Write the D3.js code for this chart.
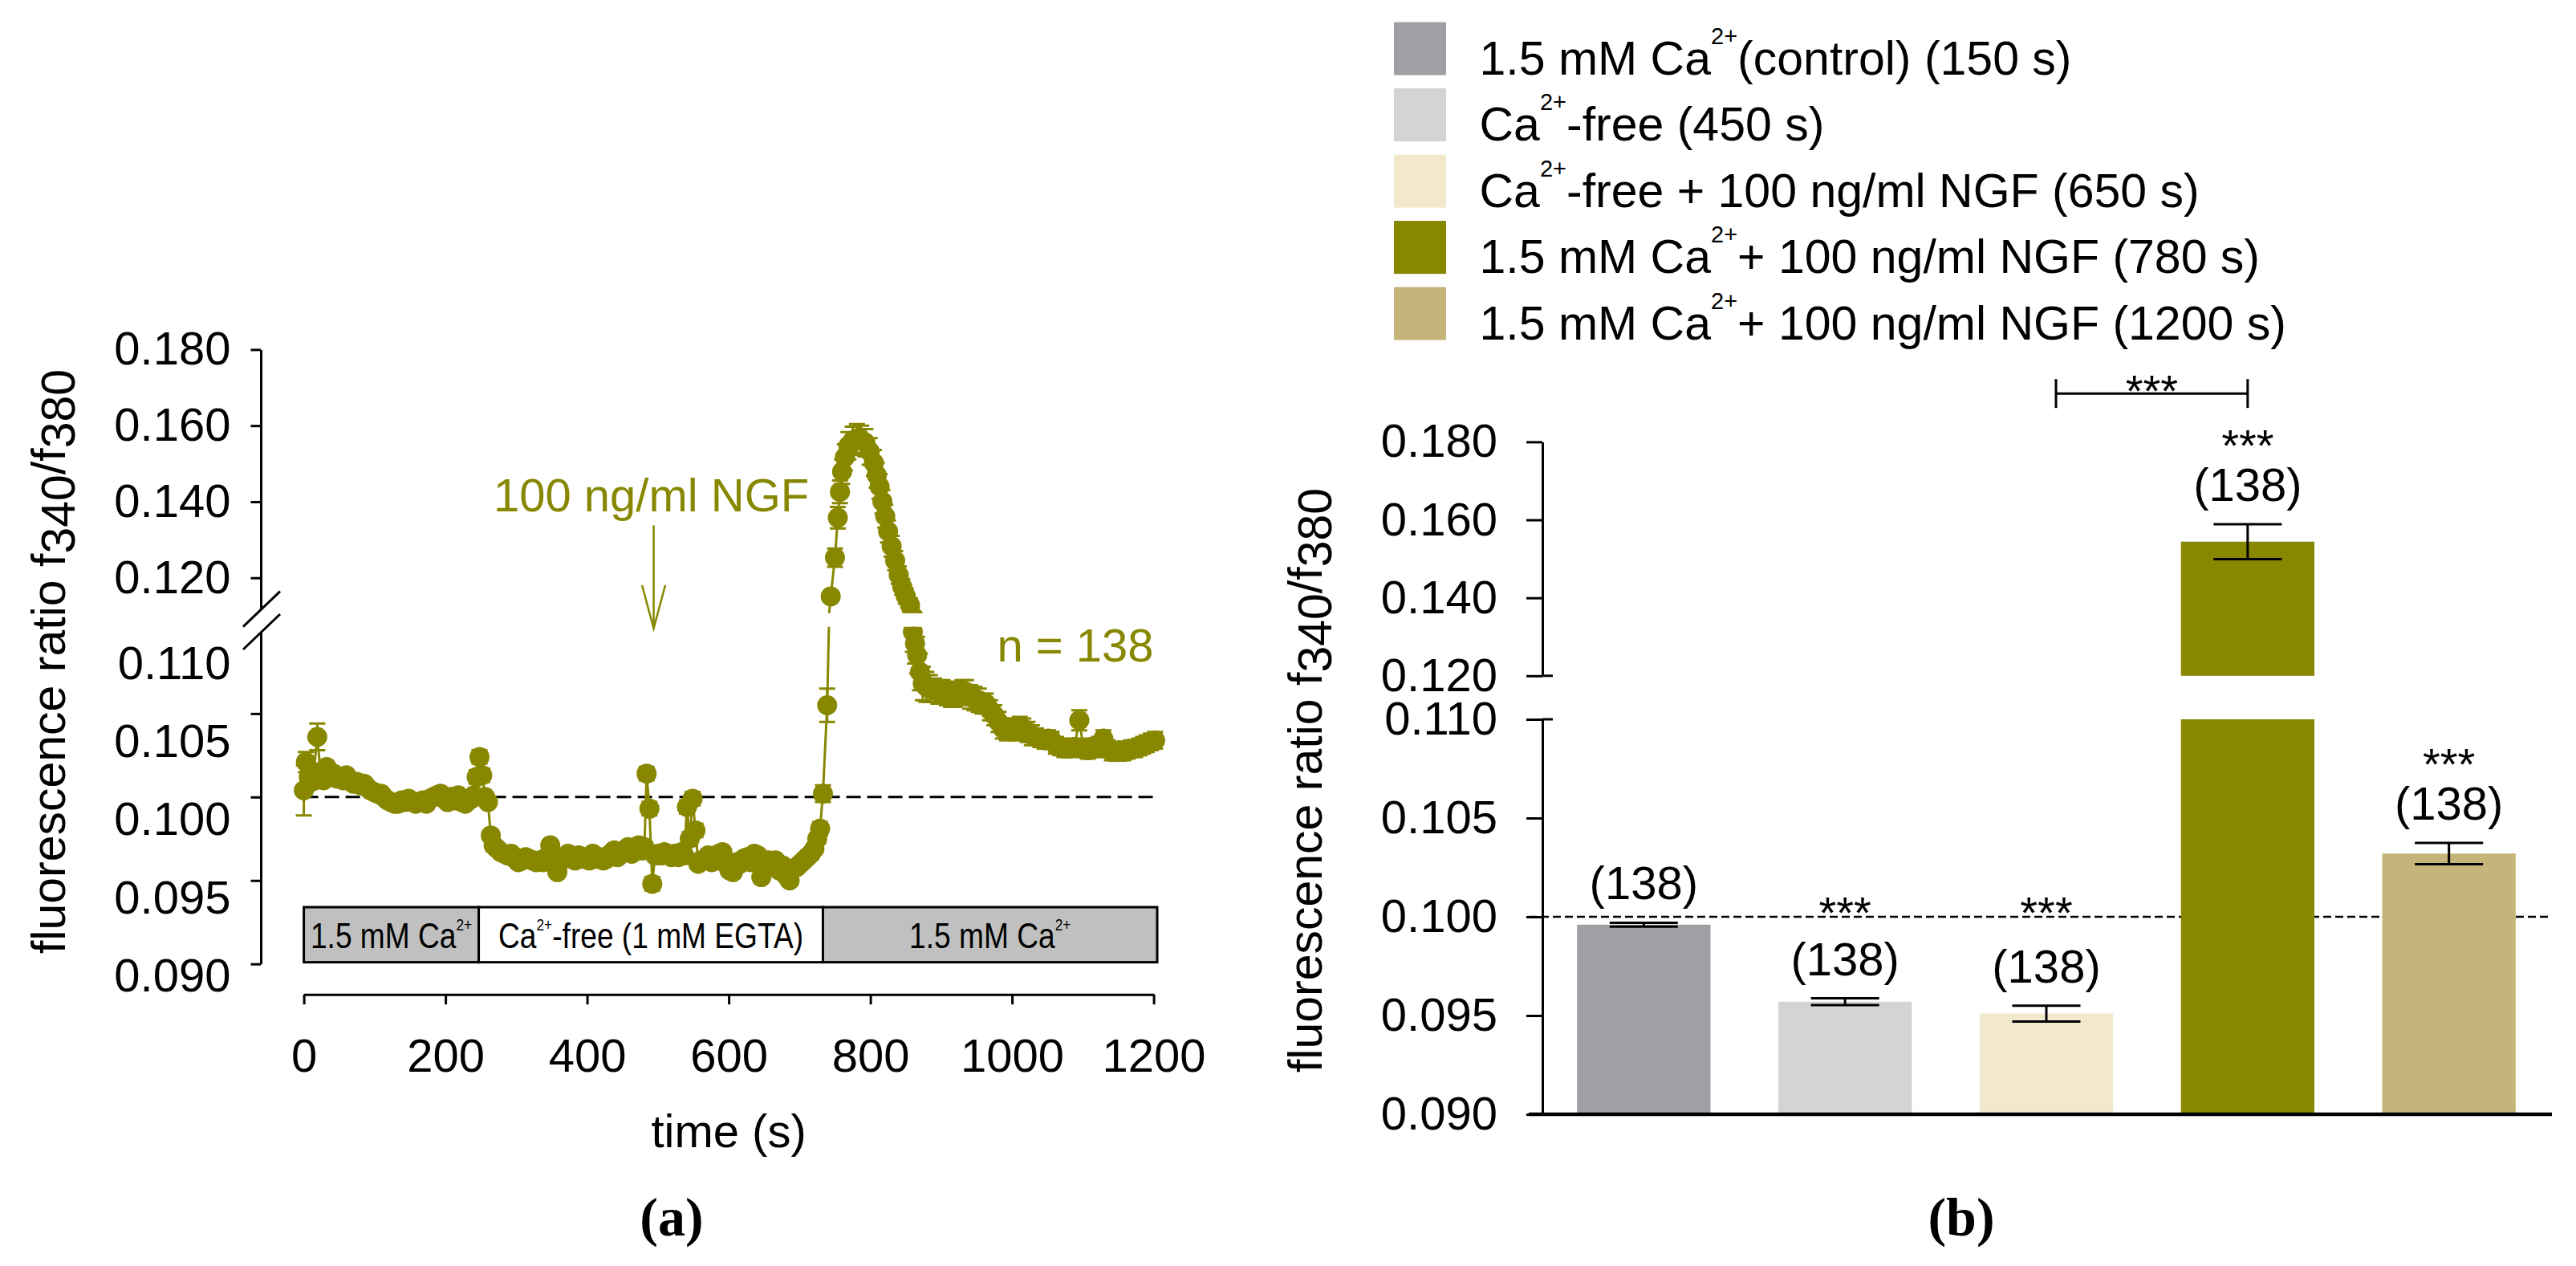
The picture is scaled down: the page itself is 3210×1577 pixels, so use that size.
<!DOCTYPE html>
<html>
<head>
<meta charset="utf-8">
<script src="https://cdn.jsdelivr.net/npm/d3@7"></script>
<style>
  body { margin: 0; background: #fff; }
  svg { display: block; font-family: "Liberation Sans", Arial, sans-serif; }
  text { white-space: pre; }
</style>
</head>
<body>
<div id="app"></div>
<script>
const WIDTH = 3210;
const HEIGHT = 1577;
const OLIVE = "#878700";

// ---------- panel (a): mean ratio over time (n = 138)
const timeS = [
  0, 3, 7, 10, 14, 19, 24, 28, 32, 37,
  42, 47, 52, 56, 60, 65, 70, 75, 80, 85,
  89, 94, 99, 104, 109, 113, 118, 123, 128, 133,
  138, 143, 148, 153, 158, 163, 168, 173, 178, 183,
  188, 193, 198, 203, 208, 213, 218, 223, 228, 233,
  237, 240, 244, 248, 252, 256, 260, 264, 268, 273,
  278, 283, 288, 293, 298, 303, 308, 313, 318, 323,
  328, 333, 338, 343, 348, 353, 358, 363, 368, 373,
  378, 383, 388, 393, 398, 403, 408, 413, 418, 423,
  428, 433, 438, 443, 448, 453, 458, 463, 468, 473,
  478, 481, 484, 488, 492, 496, 500, 504, 509, 514,
  519, 524, 529, 533, 537, 541, 545, 549, 553, 557,
  561, 566, 571, 576, 581, 586, 591, 596, 601, 606,
  611, 616, 621, 626, 631, 636, 641, 646, 651, 656,
  661, 666, 671, 676, 681, 686, 691, 696, 701, 706,
  711, 716, 721, 725, 729, 733, 739, 744, 750, 754,
  757, 760, 764, 769, 775, 781, 787, 793, 799, 805,
  809, 813, 817, 821, 825, 830, 835, 840, 845, 850,
  856, 860, 863, 866, 870, 874, 879, 884, 890, 896,
  902, 908, 914, 919, 925, 930, 935, 941, 947, 953,
  958, 963, 969, 975, 981, 987, 993, 1000, 1006, 1011,
  1016, 1022, 1028, 1034, 1040, 1046, 1051, 1056, 1062, 1068,
  1074, 1081, 1088, 1095, 1101, 1107, 1112, 1117, 1123, 1129,
  1135, 1141, 1147, 1152, 1157, 1163, 1168, 1174, 1180, 1185,
  1190, 1196, 1202
];
const ratio = [
  0.1004, 0.1021, 0.1012, 0.1009, 0.1015, 0.1036, 0.1013, 0.1010, 0.1018, 0.1012,
  0.1014, 0.1011, 0.1012, 0.1010, 0.1013, 0.1010, 0.1008, 0.1009, 0.1007, 0.1008,
  0.1006, 0.1004, 0.1003, 0.1002, 0.1002, 0.1000, 0.0998, 0.0997, 0.0996, 0.0996,
  0.0998, 0.0997, 0.0999, 0.0997, 0.0996, 0.0997, 0.0998, 0.0996, 0.0999, 0.1000,
  0.1001, 0.1002, 0.0999, 0.0997, 0.1000, 0.0998, 0.1001, 0.0997, 0.0996, 0.0998,
  0.0999, 0.1001, 0.1012, 0.1024, 0.1013, 0.1000, 0.0997, 0.0977, 0.0971, 0.0969,
  0.0967, 0.0966, 0.0965, 0.0966, 0.0963, 0.0961, 0.0962, 0.0964, 0.0963, 0.0962,
  0.0961, 0.0962, 0.0961, 0.0964, 0.0971, 0.0963, 0.0955, 0.0962, 0.0964, 0.0966,
  0.0963, 0.0962, 0.0965, 0.0963, 0.0964, 0.0962, 0.0966, 0.0963, 0.0964, 0.0962,
  0.0963, 0.0966, 0.0968, 0.0964, 0.0966, 0.0968, 0.0970, 0.0966, 0.0969, 0.0971,
  0.0968, 0.0970, 0.1014, 0.0993, 0.0948, 0.0965, 0.0966, 0.0965, 0.0967, 0.0966,
  0.0964, 0.0966, 0.0964, 0.0967, 0.0965, 0.0994, 0.0975, 0.0999, 0.0980, 0.0960,
  0.0962, 0.0962, 0.0965, 0.0961, 0.0963, 0.0966, 0.0967, 0.0960, 0.0956, 0.0955,
  0.0961, 0.0960, 0.0963, 0.0964, 0.0961, 0.0966, 0.0965, 0.0952, 0.0960, 0.0962,
  0.0958, 0.0962, 0.0956, 0.0959, 0.0953, 0.0950, 0.0957, 0.0958, 0.0960, 0.0962,
  0.0964, 0.0966, 0.0969, 0.0975, 0.0981, 0.1002, 0.1055, 0.1151, 0.1253, 0.1358,
  0.1426, 0.1479, 0.1517, 0.1547, 0.1560, 0.1566, 0.1563, 0.1555, 0.1532, 0.1502,
  0.1470, 0.1440, 0.1400, 0.1362, 0.1322, 0.1283, 0.1245, 0.1207, 0.1176, 0.1152,
  0.1128, 0.1099, 0.1092, 0.1085, 0.1075, 0.1068, 0.1066, 0.1065, 0.1064, 0.1063,
  0.1063, 0.1062, 0.1061, 0.1061, 0.1062, 0.1063, 0.1063, 0.1060, 0.1059, 0.1058,
  0.1056, 0.1056, 0.1052, 0.1049, 0.1045, 0.1041, 0.1040, 0.1041, 0.1040, 0.1042,
  0.1041, 0.1039, 0.1037, 0.1036, 0.1035, 0.1034, 0.1035, 0.1034, 0.1031, 0.1030,
  0.1029, 0.1029, 0.1030, 0.1046, 0.1029, 0.1028, 0.1030, 0.1029, 0.1031, 0.1035,
  0.1029, 0.1027, 0.1027, 0.1028, 0.1027, 0.1028, 0.1029, 0.1029, 0.1030, 0.1031,
  0.1032, 0.1033, 0.1034
];
const sem = [
  0.0015, 0.0006, 0.0004, 0.0004, 0.0004, 0.0008, 0.0004, 0.0003, 0.0003, 0.0003,
  0.0003, 0.0003, 0.0003, 0.0003, 0.0003, 0.0003, 0.0003, 0.0003, 0.0003, 0.0003,
  0.0003, 0.0003, 0.0003, 0.0003, 0.0003, 0.0003, 0.0003, 0.0003, 0.0003, 0.0003,
  0.0003, 0.0003, 0.0003, 0.0003, 0.0003, 0.0003, 0.0003, 0.0003, 0.0003, 0.0003,
  0.0003, 0.0003, 0.0003, 0.0003, 0.0003, 0.0003, 0.0003, 0.0003, 0.0003, 0.0003,
  0.0003, 0.0003, 0.0004, 0.0004, 0.0004, 0.0003, 0.0003, 0.0003, 0.0003, 0.0003,
  0.0003, 0.0003, 0.0003, 0.0003, 0.0003, 0.0003, 0.0003, 0.0003, 0.0003, 0.0003,
  0.0003, 0.0003, 0.0003, 0.0003, 0.0003, 0.0003, 0.0003, 0.0003, 0.0003, 0.0003,
  0.0003, 0.0003, 0.0003, 0.0003, 0.0003, 0.0003, 0.0003, 0.0003, 0.0003, 0.0003,
  0.0003, 0.0003, 0.0003, 0.0003, 0.0003, 0.0003, 0.0003, 0.0003, 0.0003, 0.0003,
  0.0003, 0.0003, 0.0004, 0.0004, 0.0004, 0.0003, 0.0003, 0.0003, 0.0003, 0.0003,
  0.0003, 0.0003, 0.0003, 0.0003, 0.0003, 0.0004, 0.0004, 0.0004, 0.0004, 0.0003,
  0.0003, 0.0003, 0.0003, 0.0003, 0.0003, 0.0003, 0.0003, 0.0003, 0.0003, 0.0003,
  0.0003, 0.0003, 0.0003, 0.0003, 0.0003, 0.0003, 0.0003, 0.0003, 0.0003, 0.0003,
  0.0003, 0.0003, 0.0003, 0.0003, 0.0003, 0.0003, 0.0003, 0.0003, 0.0003, 0.0003,
  0.0003, 0.0003, 0.0003, 0.0003, 0.0004, 0.0005, 0.0010, 0.0012, 0.0024, 0.0028,
  0.0030, 0.0032, 0.0034, 0.0036, 0.0037, 0.0038, 0.0037, 0.0036, 0.0035, 0.0034,
  0.0033, 0.0032, 0.0031, 0.0030, 0.0029, 0.0027, 0.0025, 0.0023, 0.0021, 0.0020,
  0.0018, 0.0012, 0.0012, 0.0011, 0.0011, 0.0010, 0.0009, 0.0008, 0.0007, 0.0007,
  0.0007, 0.0007, 0.0007, 0.0007, 0.0007, 0.0007, 0.0007, 0.0007, 0.0007, 0.0007,
  0.0006, 0.0006, 0.0006, 0.0006, 0.0006, 0.0006, 0.0006, 0.0006, 0.0006, 0.0006,
  0.0006, 0.0006, 0.0006, 0.0005, 0.0005, 0.0005, 0.0005, 0.0005, 0.0005, 0.0005,
  0.0005, 0.0005, 0.0005, 0.0006, 0.0005, 0.0005, 0.0005, 0.0005, 0.0005, 0.0005,
  0.0005, 0.0005, 0.0005, 0.0005, 0.0005, 0.0005, 0.0005, 0.0005, 0.0005, 0.0005,
  0.0005, 0.0005, 0.0005
];

// protocol bar under the trace
const phaseLabels = [["1.5 mM Ca", ["2+"]], ["Ca", ["2+"], "-free (1 mM EGTA)"], ["1.5 mM Ca", ["2+"]]];
const phaseStart = [0, 247, 733];
const phaseEnd = [247, 733, 1205];
const phaseFill = ["#c0c0c0", "#ffffff", "#c0c0c0"];

const timeTicks = [0, 200, 400, 600, 800, 1000, 1200];
const upperTicks = [0.12, 0.14, 0.16, 0.18];
const lowerTicksA = [0.090, 0.095, 0.100, 0.105];
const lowerLabels = [0.090, 0.095, 0.100, 0.105, 0.110];
const NGF_TIME = 494;

// ---------- panel (b): mean ratio at selected time points
const categories = ["control", "free", "freeNGF", "ngf780", "ngf1200"];
const barMeans = [0.0996, 0.0957, 0.0951, 0.1544, 0.1032];
const barSem = [0.0001, 0.00017, 0.0004, 0.0045, 0.00054];
const barN = [138, 138, 138, 138, 138];
const barStars = ["", "***", "***", "***", "***"];
const barColors = ["#a19fa5", "#d4d4d4", "#f2e8cc", "#878700", "#c5b57a"];
const legendLabels = [
  ["1.5 mM Ca", ["2+"], "(control) (150 s)"],
  ["Ca", ["2+"], "-free (450 s)"],
  ["Ca", ["2+"], "-free + 100 ng/ml NGF (650 s)"],
  ["1.5 mM Ca", ["2+"], "+ 100 ng/ml NGF (780 s)"],
  ["1.5 mM Ca", ["2+"], "+ 100 ng/ml NGF (1200 s)"]
];
const lowerTicksB = [0.090, 0.095, 0.100, 0.105, 0.110];

const fmt = d3.format(".3f");

const svg = d3.select("#app").append("svg").attr("width", WIDTH).attr("height", HEIGHT);

// text with superscript pieces, e.g. ["Ca", ["2+"], "-free"]
function richText(sel, parts, supSize, supShift) {
  let raised = false;
  parts.forEach((p) => {
    const isSup = Array.isArray(p);
    const ts = sel.append("tspan").text(isSup ? p[0] : p);
    if (isSup) {
      ts.attr("dy", -supShift).attr("font-size", supSize);
      raised = true;
    } else if (raised) {
      ts.attr("dy", supShift);
      raised = false;
    }
  });
  return sel;
}

function styleAxis(g, size, width) {
  g.attr("font-size", size).attr("font-family", null);
  g.selectAll("path, line").attr("stroke", "#000").attr("stroke-width", width);
  g.selectAll("text").attr("fill", "#000");
}

function yTitle(x, y) {
  const t = svg.append("text")
    .attr("transform", `translate(${x},${y}) rotate(-90)`)
    .attr("text-anchor", "middle")
    .attr("font-size", 59);
  t.append("tspan").text("fluorescence ratio f");
  t.append("tspan").attr("dy", 12).text("340");
  t.append("tspan").attr("dy", -12).text("/f");
  t.append("tspan").attr("dy", 12).text("380");
}

// ================= panel (a)
const AX_A = 325;
const x = d3.scaleLinear().domain([0, 1200]).range([378.6, 1437.6]);
const yUp = d3.scaleLinear().domain([0.1118, 0.18]).range([758.6, 435.4]);
const yLow = d3.scaleLinear().domain([0.09, 0.1099]).range([1200.7, 787]);
// the lower labels sit on a slightly different spacing than their ticks
const yLowLab = d3.scaleLinear().domain([0.09, 0.11]).range([1216, 826.6]);

const series = timeS.map((t, i) => ({ t, v: ratio[i], e: sem[i] }));

const gA = svg.append("g");

gA.append("g").attr("transform", `translate(${AX_A},0)`)
  .call(d3.axisLeft(yUp).tickValues(upperTicks).tickFormat(fmt)
    .tickSize(12.5).tickSizeOuter(0).tickPadding(25))
  .call(styleAxis, 58, 3);
gA.append("g").attr("transform", `translate(${AX_A},0)`)
  .call(d3.axisLeft(yLow).tickValues(lowerTicksA).tickFormat("")
    .tickSize(12.5).tickSizeOuter(0))
  .call(styleAxis, 58, 3);
gA.append("g").attr("transform", `translate(${AX_A},0)`)
  .call(d3.axisLeft(yLowLab).tickValues(lowerLabels).tickFormat(fmt)
    .tickSize(0).tickPadding(37.5))
  .call(styleAxis, 58, 3)
  .call((g) => g.select(".domain").remove());

// axis break marks
[yUp.range()[0], yLow.range()[1]].forEach((yc) => {
  gA.append("line")
    .attr("x1", AX_A - 22).attr("y1", yc + 22)
    .attr("x2", AX_A + 24).attr("y2", yc - 22)
    .attr("stroke", "#000").attr("stroke-width", 3);
});

gA.append("g").attr("transform", `translate(0,${yLow(0.09) + 38})`)
  .call(d3.axisBottom(x).tickValues(timeTicks).tickFormat(d3.format("d"))
    .tickSize(12.5).tickSizeOuter(0).tickPadding(43))
  .call(styleAxis, 58, 3);

gA.append("text").attr("x", x(600)).attr("y", 1429)
  .attr("text-anchor", "middle").attr("font-size", 58).text("time (s)");

// baseline
gA.append("line")
  .attr("x1", x(0)).attr("x2", x(1202))
  .attr("y1", yLow(0.1)).attr("y2", yLow(0.1))
  .attr("stroke", "#000").attr("stroke-width", 3).attr("stroke-dasharray", "18,8");

// protocol boxes
const phases = phaseLabels.map((lab, i) => ({ lab, t0: phaseStart[i], t1: phaseEnd[i], fill: phaseFill[i] }));
gA.append("g").selectAll("rect").data(phases).join("rect")
  .attr("x", (d) => x(d.t0)).attr("width", (d) => x(d.t1) - x(d.t0))
  .attr("y", yLow(0.0934)).attr("height", yLow(0.0901) - yLow(0.0934))
  .attr("fill", (d) => d.fill).attr("stroke", "#000").attr("stroke-width", 3);
phases.forEach((d) => {
  const g = gA.append("g")
    .attr("transform", `translate(${(x(d.t0) + x(d.t1)) / 2},${yLow(0.09094)}) scale(0.825,1)`);
  richText(g.append("text").attr("text-anchor", "middle").attr("font-size", 45), d.lab, 21, 22);
});

// trace, drawn twice across the axis break
const defs = svg.append("defs");
defs.append("clipPath").attr("id", "clipUp").append("rect")
  .attr("x", 0).attr("y", 0).attr("width", 1600).attr("height", yUp(0.1107));
defs.append("clipPath").attr("id", "clipLow").append("rect")
  .attr("x", 0).attr("y", yLow(0.1102)).attr("width", 1600).attr("height", 600);

function drawSeries(g, y) {
  g.append("path").datum(series)
    .attr("d", d3.line().x((d) => x(d.t)).y((d) => y(d.v)))
    .attr("fill", "none").attr("stroke", OLIVE).attr("stroke-width", 3);
  const eb = g.append("g").attr("stroke", OLIVE).attr("stroke-width", 3);
  eb.selectAll(".stem").data(series).join("line").attr("class", "stem")
    .attr("x1", (d) => x(d.t)).attr("x2", (d) => x(d.t))
    .attr("y1", (d) => y(d.v - d.e)).attr("y2", (d) => y(d.v + d.e));
  [-1, 1].forEach((s) => {
    eb.selectAll(".cap" + (s + 1)).data(series).join("line").attr("class", "cap" + (s + 1))
      .attr("x1", (d) => x(d.t) - 10).attr("x2", (d) => x(d.t) + 10)
      .attr("y1", (d) => y(d.v + s * d.e)).attr("y2", (d) => y(d.v + s * d.e));
  });
  g.append("g").selectAll("circle").data(series).join("circle")
    .attr("cx", (d) => x(d.t)).attr("cy", (d) => y(d.v))
    .attr("r", 12.5).attr("fill", OLIVE);
}
drawSeries(gA.append("g").attr("clip-path", "url(#clipUp)"), yUp);
drawSeries(gA.append("g").attr("clip-path", "url(#clipLow)"), yLow);

// NGF application
gA.append("text").attr("x", x(NGF_TIME) - 3).attr("y", yUp(0.1374))
  .attr("text-anchor", "middle").attr("font-size", 58).attr("fill", OLIVE).text("100 ng/ml NGF");
const tipY = yLow(0.1101);
gA.append("line").attr("x1", x(NGF_TIME)).attr("x2", x(NGF_TIME))
  .attr("y1", yUp(0.1338)).attr("y2", tipY)
  .attr("stroke", OLIVE).attr("stroke-width", 2.5);
gA.append("path")
  .attr("d", `M${x(NGF_TIME) - 14.5},${tipY - 54}L${x(NGF_TIME)},${tipY}L${x(NGF_TIME) + 14.5},${tipY - 54}`)
  .attr("fill", "none").attr("stroke", OLIVE).attr("stroke-width", 2.5);

gA.append("text").attr("x", x(1200)).attr("y", yLow(0.1081))
  .attr("text-anchor", "end").attr("font-size", 58).attr("fill", OLIVE).text("n = 138");

yTitle(81, 824);

svg.append("text").attr("x", 837).attr("y", 1539).attr("text-anchor", "middle")
  .attr("font-family", "'Liberation Serif', 'Times New Roman', serif")
  .attr("font-weight", "bold").attr("font-size", 68).text("(a)");

// ================= panel (b)
const AX_B = 1922;
const xb = d3.scaleBand().domain(categories).range([1920, 3180]).paddingInner(0.337).paddingOuter(0.18);
const ybUp = d3.scaleLinear().domain([0.12, 0.18]).range([841.8, 550.4]);
const ybLow = d3.scaleLinear().domain([0.09, 0.11]).range([1388, 896]);
const bars = categories.map((c, i) => ({
  c, v: barMeans[i], e: barSem[i], n: barN[i], stars: barStars[i], color: barColors[i]
}));
const ybFor = (v) => (v > 0.115 ? ybUp : ybLow);

const gB = svg.append("g");

gB.append("line")
  .attr("x1", AX_B - 17).attr("x2", 3180)
  .attr("y1", ybLow(0.1)).attr("y2", ybLow(0.1))
  .attr("stroke", "#000").attr("stroke-width", 2.5).attr("stroke-dasharray", "10,5");

gB.append("g").selectAll("rect").data(bars).join("rect")
  .attr("x", (d) => xb(d.c)).attr("width", xb.bandwidth())
  .attr("y", (d) => ybLow(Math.min(d.v, 0.11)))
  .attr("height", (d) => ybLow(0.09) - ybLow(Math.min(d.v, 0.11)))
  .attr("fill", (d) => d.color);
gB.append("g").selectAll("rect").data(bars.filter((d) => d.v > 0.12)).join("rect")
  .attr("x", (d) => xb(d.c)).attr("width", xb.bandwidth())
  .attr("y", (d) => ybUp(d.v)).attr("height", (d) => ybUp(0.12) - ybUp(d.v))
  .attr("fill", (d) => d.color);

// error bars
const ebB = gB.append("g").attr("stroke", "#000").attr("stroke-width", 3);
bars.forEach((d) => {
  const y = ybFor(d.v);
  const cx = xb(d.c) + xb.bandwidth() / 2;
  ebB.append("line").attr("x1", cx).attr("x2", cx).attr("y1", y(d.v - d.e)).attr("y2", y(d.v + d.e));
  [d.v - d.e, d.v + d.e].forEach((v) => {
    ebB.append("line").attr("x1", cx - 42.5).attr("x2", cx + 42.5).attr("y1", y(v)).attr("y2", y(v));
  });
});

// n and significance labels
bars.forEach((d) => {
  const cx = xb(d.c) + xb.bandwidth() / 2;
  const base = ybFor(d.v)(d.v + d.e) - 29;
  gB.append("text").attr("x", cx).attr("y", base).attr("text-anchor", "middle")
    .attr("font-size", 58).text(`(${d.n})`);
  if (d.stars) {
    gB.append("text").attr("x", cx).attr("y", Math.min(base - 50, ybLow(0.09945)))
      .attr("text-anchor", "middle").attr("font-size", 56).text(d.stars);
  }
});

// bracket between Ca-free + NGF and 1.5 mM Ca + NGF (780 s)
const bx0 = xb("freeNGF") + xb.bandwidth() / 2 + 12;
const bx1 = xb("ngf780") + xb.bandwidth() / 2;
const by = ybUp(0.1924);
const gBr = gB.append("g").attr("stroke", "#000").attr("stroke-width", 3);
gBr.append("line").attr("x1", bx0).attr("x2", bx1).attr("y1", by).attr("y2", by);
[bx0, bx1].forEach((bx) => gBr.append("line").attr("x1", bx).attr("x2", bx).attr("y1", by - 18).attr("y2", by + 18));
gB.append("text").attr("x", (bx0 + bx1) / 2).attr("y", by + 15.5)
  .attr("text-anchor", "middle").attr("font-size", 56).text("***");

// axes
gB.append("g").attr("transform", `translate(${AX_B},0)`)
  .call(d3.axisLeft(ybUp).tickValues(upperTicks).tickFormat(fmt)
    .tickSize(20).tickSizeOuter(0).tickPadding(36))
  .call(styleAxis, 58, 3);
gB.append("g").attr("transform", `translate(${AX_B},0)`)
  .call(d3.axisLeft(ybLow).tickValues(lowerTicksB).tickFormat(fmt)
    .tickSize(20).tickSizeOuter(0).tickPadding(36))
  .call(styleAxis, 58, 3);
[ybUp(0.12), ybLow(0.11)].forEach((yc) => {
  gB.append("line").attr("x1", AX_B).attr("x2", AX_B + 13).attr("y1", yc).attr("y2", yc)
    .attr("stroke", "#000").attr("stroke-width", 3);
});
gB.append("line")
  .attr("x1", AX_B - 17).attr("x2", 3180)
  .attr("y1", ybLow(0.09)).attr("y2", ybLow(0.09))
  .attr("stroke", "#000").attr("stroke-width", 4.5);

yTitle(1647, 972);

// legend
const legend = gB.append("g").selectAll("g").data(bars).join("g")
  .attr("transform", (d, i) => `translate(1737,${27.6 + i * 82.5})`);
legend.append("rect").attr("width", 65).attr("height", 66).attr("fill", (d) => d.color);
legend.each(function (d, i) {
  richText(d3.select(this).append("text").attr("x", 106.5).attr("y", 65.4).attr("font-size", 59),
    legendLabels[i], 29, 38);
});

svg.append("text").attr("x", 2444).attr("y", 1539).attr("text-anchor", "middle")
  .attr("font-family", "'Liberation Serif', 'Times New Roman', serif")
  .attr("font-weight", "bold").attr("font-size", 68).text("(b)");
</script>
</body>
</html>
